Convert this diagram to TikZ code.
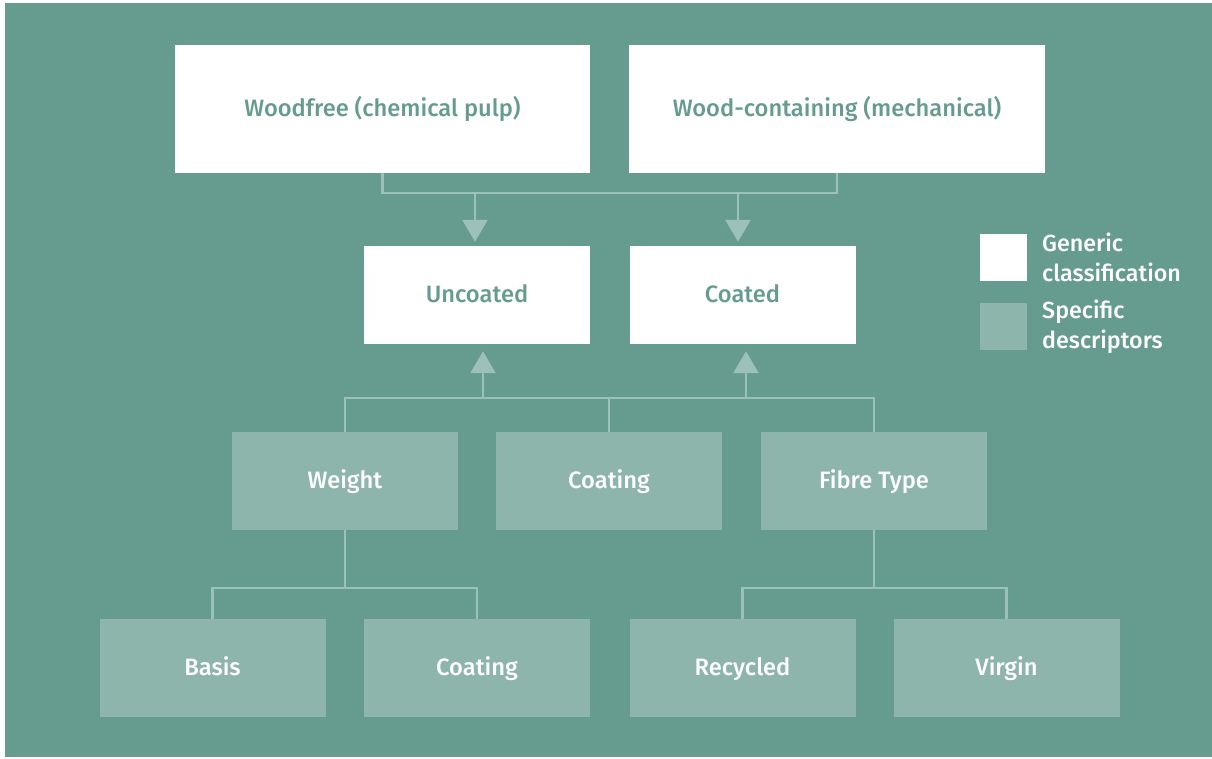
\documentclass[tikz,border=0pt]{standalone}
\usepackage{fontspec}
\setmainfont{Fira Sans}[UprightFont={* Medium}]
\usetikzlibrary{arrows.meta}
\definecolor{teal0}{HTML}{669C8F}
\definecolor{tealbox}{HTML}{8DB5AC}
\definecolor{tealline}{HTML}{9CC1B8}
\tikzset{
  boxtext/.style={font=\fontsize{23.7}{27}\selectfont,text height=17pt,text depth=3pt},
  generic/.style={boxtext,fill=white,text=teal0,minimum width=226pt,minimum height=98pt,inner sep=0pt},
  specific/.style={boxtext,fill=tealbox,text=white,minimum width=226pt,minimum height=98pt,inner sep=0pt},
  legendtext/.style={anchor=west,text=white,align=left,inner sep=0pt,font=\fontsize{23.3}{30}\selectfont},
  link/.style={draw=tealline,line width=2.5pt},
  arr/.style={link,-{Triangle[width=25pt,length=22pt]}}
}
\begin{document}
\begin{tikzpicture}[x=1pt,y=-1pt]
   \useasboundingbox (0,0) rectangle (1212,758);
   \fill[teal0] (5,3) rectangle (1212,757);
   % generic classification
   \node[generic,minimum width=415pt,minimum height=128pt] (wf) at (382.5,109) {Woodfree (chemical pulp)};
   \node[generic,minimum width=416pt,minimum height=128pt] (wc) at (837,109) {Wood-containing (mechanical)};
   \node[generic] (uc) at (477,295) {Uncoated};
   \node[generic] (co) at (742.5,295) {Coated};
   % specific descriptors
   \node[specific] (we) at (345,481) {Weight};
   \node[specific] (ct) at (609,481) {Coating};
   \node[specific] (ft) at (874,481) {Fibre Type};
   \node[specific] (ba) at (212.5,668) {Basis};
   \node[specific] (cw) at (477,668) {Coating};
   \node[specific] (rc) at (742.5,668) {Recycled};
   \node[specific] (vi) at (1006.5,668) {Virgin};
   % legend
   \node[fill=white,minimum size=47pt,inner sep=0pt] (lg) at (1003.5,257.5) {};
   \node[fill=tealbox,minimum size=47pt,inner sep=0pt] (ls) at (1003.5,326.5) {};
   \node[legendtext] (lgt) at (1042,257.5) {Generic\\classification};
   \node[legendtext] (lst) at (1042,326.5) {Specific\\descriptors};
   % connectors
   \coordinate (d1) at (475,193);
   \coordinate (d2) at (738,193);
   \coordinate (u1) at (483,398);
   \coordinate (u2) at (746,398);
   \draw[link] (wf.south) -- (wf.south |- d1) -- (wc.south |- d1) -- (wc.south);
   \draw[arr,shorten >=4pt] (d1) -- (d1 |- uc.north);
   \draw[arr,shorten >=4pt] (d2) -- (d2 |- co.north);
   \draw[link] (we.north) -- (we.north |- u1) -- (ft.north |- u1) -- (ft.north);
   \draw[link] (ct.north) -- (ct.north |- u1);
   \draw[arr,shorten >=7pt] (u1) -- (u1 |- uc.south);
   \draw[arr,shorten >=7pt] (u2) -- (u2 |- co.south);
   \draw[link] (we.south) -- ++(0,58);
   \draw[link] (ba.north) -- ++(0,-31) -| (cw.north);
   \draw[link] (ft.south) -- ++(0,58);
   \draw[link] (rc.north) -- ++(0,-31) -| (vi.north);
\end{tikzpicture}
\end{document}
